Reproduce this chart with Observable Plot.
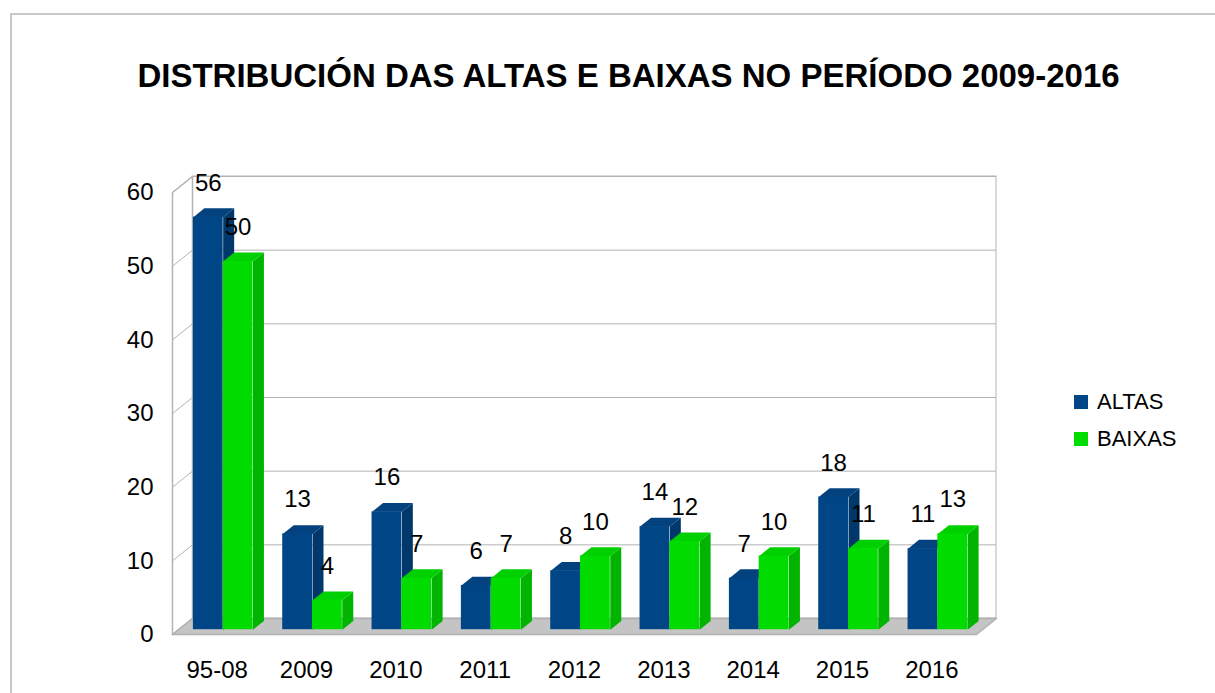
<!DOCTYPE html>
<html>
<head>
<meta charset="utf-8">
<script src="https://cdn.jsdelivr.net/npm/d3@7"></script>
<script src="https://cdn.jsdelivr.net/npm/@observablehq/plot@0.6"></script>
<style>
  body { margin: 0; background: #fff; font-family: "Liberation Sans", Arial, sans-serif; }
  #wrap { position: relative; width: 1215px; height: 693px; overflow: hidden; background: #fff; }
  #frame { position: absolute; left: 10px; top: 13px; width: 1400px; height: 900px;
           border-left: 2px solid #c8c8c8; border-top: 2px solid #c8c8c8; box-sizing: border-box; }
  #chart { position: absolute; left: 0; top: 0; }
  #title { position: absolute; left: 0; top: 59px; width: 1257px; text-align: center;
           font-size: 33px; line-height: 1; font-weight: bold; color: #000; white-space: nowrap; }
  .leg { position: absolute; left: 1074px; height: 22px; display: flex; align-items: center;
         font-size: 22px; line-height: 1; color: #000; }
  .sw { width: 14px; height: 14px; margin-right: 9px; }
</style>
</head>
<body>
<div id="wrap">
  <div id="frame"></div>
  <div id="chart"></div>
  <div id="title"></div>
  <div id="legend"></div>
</div>
<script>
// ---- data ----
const titleText = "DISTRIBUCIÓN DAS ALTAS E BAIXAS NO PERÍODO 2009-2016";
const categories = ["95-08", "2009", "2010", "2011", "2012", "2013", "2014", "2015", "2016"];
const seriesNames = ["ALTAS", "BAIXAS"];
const altas  = [56, 13, 16, 6, 8, 14, 7, 18, 11];
const baixas = [50, 4, 7, 7, 10, 12, 10, 11, 13];
const yTicks = [0, 10, 20, 30, 40, 50, 60];

// ---- styling / layout ----
const colors = {
  ALTAS:  {front: "#004586", top: "#03427f", side: "#00386c"},
  BAIXAS: {front: "#00dc00", top: "#00cf00", side: "#00b400"}
};
const W = 1215, H = 693, ML = 172, MR = 239, MT = 192, MB = 59;
const yMax = yTicks[yTicks.length - 1];
const nCat = categories.length;
const kx = (W - ML - MR) / nCat;      // px per x unit
const ky = (H - MT - MB) / yMax;      // px per y unit
const DX = 20 / kx, DY = 16 / ky;     // depth vector (20px right, 16px up) in data units
const T1 = 0.3, T2 = 0.85;            // bar front / back depth
const BW = 1 / 3;                     // bar width (fraction of category band)
const grid = "#b3b3b3";

document.getElementById("title").textContent = titleText;

const values = {ALTAS: altas, BAIXAS: baixas};
const bars = [];
seriesNames.forEach((s, si) => {
  categories.forEach((c, i) => {
    const x1 = i + 0.5 - BW + si * BW;
    bars.push({cat: c, series: s, value: values[s][i], x1, x2: x1 + BW});
  });
});

const P = (x, y, t, id) => ({x: x + t * DX, y: y + t * DY, id});

function faces(s) {
  const top = [], side = [];
  bars.filter(b => b.series === s).forEach((b, k) => {
    const v = b.value;
    top.push(P(b.x1, v, T1, k), P(b.x2, v, T1, k), P(b.x2, v, T2, k), P(b.x1, v, T2, k));
    side.push(P(b.x2, 0, T1, k), P(b.x2, v, T1, k), P(b.x2, v, T2, k), P(b.x2, 0, T2, k));
  });
  return {top, side};
}

const sideWall = [P(0, 0, 0), P(0, yMax, 0), P(0, yMax, 1), P(0, 0, 1), P(0, 0, 0)];
const floor = [P(0, 0, 0), P(nCat, 0, 0), P(nCat, 0, 1), P(0, 0, 1), P(0, 0, 0)];

const marks = [
  // back wall
  Plot.rect([0], {x1: DX, x2: nCat + DX, y1: DY, y2: yMax + DY, fill: "white", stroke: grid}),
  Plot.ruleY(yTicks, {y: d => d + DY, x1: DX, x2: nCat + DX, stroke: grid}),
  // side wall
  Plot.line(sideWall, {x: "x", y: "y", fill: "white", stroke: grid}),
  Plot.link(yTicks, {x1: 0, y1: d => d, x2: DX, y2: d => d + DY, stroke: grid}),
  Plot.ruleX([0], {y1: 0, y2: yMax, stroke: grid}),
  // floor
  Plot.line(floor, {x: "x", y: "y", fill: "#c4c4c4", stroke: "#b0b0b0"})
];

seriesNames.forEach(s => {
  const f = faces(s);
  const bs = bars.filter(b => b.series === s);
  marks.push(
    Plot.line(f.side, {x: "x", y: "y", z: "id", fill: colors[s].side, stroke: "none"}),
    Plot.line(f.top, {x: "x", y: "y", z: "id", fill: colors[s].top, stroke: "none"}),
    Plot.rect(bs, {
      x1: d => d.x1 + T1 * DX, x2: d => d.x2 + T1 * DX,
      y1: T1 * DY, y2: d => d.value + T1 * DY,
      fill: colors[s].front
    })
  );
});

marks.push(
  Plot.text(bars, {
    x: d => (d.x1 + d.x2) / 2 + T1 * DX, y: "value", text: d => String(d.value),
    dy: -39, fontSize: 24, fill: "black"
  })
);

const chart = Plot.plot({
  width: W, height: H,
  marginLeft: ML, marginRight: MR, marginTop: MT, marginBottom: MB,
  style: {fontFamily: "'Liberation Sans', Arial, sans-serif", fontSize: "24px", color: "black", background: "transparent", overflow: "visible"},
  x: {domain: [0, nCat], ticks: categories.map((c, i) => i + 0.5),
      tickFormat: d => categories[Math.floor(d)], tickSize: 0, tickPadding: 26, label: null},
  y: {domain: [0, yMax], ticks: yTicks, tickSize: 0, tickPadding: 19, label: null},
  marks
});
document.getElementById("chart").appendChild(chart);

// legend
const legend = document.getElementById("legend");
seriesNames.forEach((s, i) => {
  const item = document.createElement("div");
  item.className = "leg";
  item.style.top = (391 + i * 37) + "px";
  const sw = document.createElement("div");
  sw.className = "sw";
  sw.style.background = colors[s].front;
  const t = document.createElement("span");
  t.textContent = s;
  item.appendChild(sw); item.appendChild(t);
  legend.appendChild(item);
});
</script>
</body>
</html>
